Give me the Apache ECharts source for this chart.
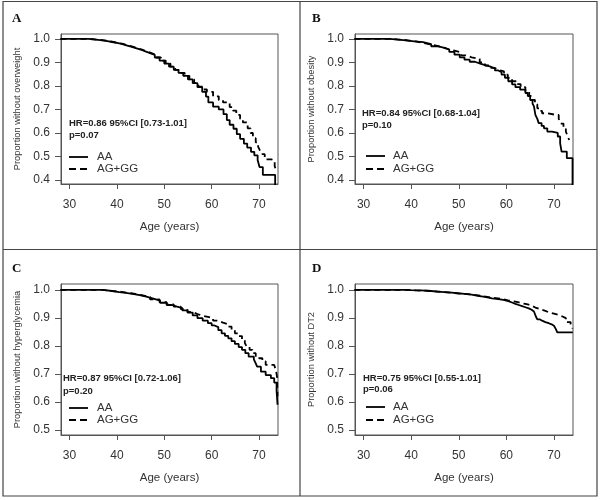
<!DOCTYPE html>
<html><head><meta charset="utf-8">
<script src="https://cdn.jsdelivr.net/npm/echarts@6/dist/echarts.min.js"></script>
<style>html,body{margin:0;padding:0;background:#fff}#c{width:600px;height:500px}</style>
</head><body><div id="c"></div><script>
// ---------- data ----------
const xTicks = [30, 40, 50, 60, 70];
const yTicksAB = [0.4, 0.5, 0.6, 0.7, 0.8, 0.9, 1.0];
const yTicksCD = [0.5, 0.6, 0.7, 0.8, 0.9, 1.0];
const panelLetters = ['A', 'B', 'C', 'D'];
const yTitles = ['Proportion without overweight', 'Proportion without obesity', 'Proportion without hyperglycemia', 'Proportion without DT2'];
const xTitle = 'Age (years)';
const hrTexts = ['HR=0.86 95%CI [0.73-1.01]', 'HR=0.84 95%CI [0.68-1.04]', 'HR=0.87 95%CI [0.72-1.06]', 'HR=0.75 95%CI [0.55-1.01]'];
const pTexts = ['p=0.07', 'p=0.10', 'p=0.20', 'p=0.06'];
const groupNames = ['AA', 'AG+GG'];

// [age, proportion] Kaplan-Meier steps
const A_AA = [[28.1,1],[33,1],[34,0.998],[35,0.996],[36,0.994],[37,0.991],[38,0.987],[39,0.983],[40,0.979],[41,0.973],[42,0.967],[43,0.961],[44,0.955],[45,0.947],[46,0.94],[47,0.932],[48,0.921],[49,0.908],[50,0.895],[51,0.882],[52,0.868],[53,0.856],[54,0.843],[55,0.828],[56,0.812],[57,0.795],[58,0.775],[58.8,0.755],[59.3,0.73],[60.3,0.712],[61.5,0.70],[62.5,0.68],[63.2,0.655],[63.8,0.635],[64.6,0.618],[65.3,0.595],[66,0.575],[66.8,0.555],[67.5,0.538],[68.3,0.52],[69,0.505],[69.7,0.485],[70.1,0.455],[70.8,0.422],[73.4,0.3]];
const A_AG = [[28.1,1],[33.3,1],[34.3,0.998],[35.3,0.996],[36.3,0.994],[37.3,0.991],[38.3,0.987],[39.3,0.983],[40.3,0.979],[41.3,0.973],[42.3,0.967],[43.3,0.961],[44.3,0.955],[45.3,0.947],[46.3,0.94],[47.3,0.932],[48.3,0.921],[49.3,0.908],[50.3,0.895],[51.3,0.882],[52.3,0.868],[53.3,0.856],[54.3,0.843],[55.3,0.828],[56.3,0.812],[57.2,0.797],[58.2,0.785],[59,0.775],[60.3,0.756],[61.5,0.74],[62.4,0.73],[63.8,0.71],[64.5,0.695],[65.2,0.677],[66,0.66],[66.6,0.645],[67.6,0.62],[68.2,0.6],[68.7,0.578],[69.3,0.56],[69.8,0.542],[70.2,0.525],[70.5,0.51],[71.2,0.488],[72.6,0.482],[73.3,0.46],[73.5,0.445]];
const B_AA = [[28.1,1],[33.5,1],[35.5,0.997],[37.1,0.994],[39,0.99],[40.6,0.986],[42.5,0.978],[44.2,0.969],[45.5,0.962],[47,0.955],[48,0.945],[49.1,0.933],[50.2,0.922],[51.2,0.912],[52.3,0.903],[53.4,0.895],[54.5,0.889],[55.5,0.883],[56.5,0.875],[57.6,0.866],[58.3,0.858],[59,0.848],[59.7,0.835],[60.4,0.82],[61.2,0.807],[61.9,0.795],[62.9,0.784],[64,0.77],[64.5,0.757],[65,0.74],[65.5,0.725],[65.8,0.713],[66.1,0.677],[66.5,0.66],[66.8,0.642],[67.4,0.63],[67.9,0.62],[68.6,0.606],[69.6,0.6],[70.8,0.585],[71.3,0.556],[71.6,0.521],[72.7,0.493],[73.9,0.3]];
const B_AG = [[28.1,1],[34,1],[36,0.997],[38,0.993],[39.5,0.99],[41,0.983],[42.5,0.977],[44,0.97],[45.5,0.962],[47,0.955],[48,0.95],[49.1,0.943],[50.5,0.93],[51.5,0.922],[52.7,0.915],[54.4,0.9],[55.5,0.887],[56.5,0.877],[57.5,0.869],[58.3,0.862],[59.5,0.848],[60.3,0.835],[61.2,0.82],[62,0.808],[63,0.795],[64,0.777],[64.8,0.758],[65.4,0.741],[66,0.722],[66.5,0.705],[67,0.694],[67.5,0.684],[68.6,0.677],[70.4,0.677],[71,0.66],[71.4,0.64],[72,0.62],[72.5,0.606],[72.9,0.585],[73.2,0.57]];
const C_AA = [[28.1,1],[35.4,1],[37,0.996],[39,0.992],[40.5,0.989],[41.9,0.986],[43.3,0.981],[44.8,0.976],[46.2,0.969],[47.7,0.962],[49.1,0.954],[50.5,0.946],[51.6,0.94],[52.7,0.935],[53.8,0.927],[54.9,0.919],[56,0.909],[57,0.899],[58.1,0.89],[59.2,0.881],[60,0.873],[60.6,0.867],[61.4,0.856],[62.1,0.845],[62.8,0.836],[63.5,0.827],[64.2,0.817],[64.9,0.807],[65.7,0.796],[66.4,0.786],[67.1,0.774],[67.8,0.762],[68.9,0.752],[69.3,0.738],[69.6,0.726],[70.4,0.708],[71.4,0.696],[72.5,0.685],[73.2,0.669],[73.7,0.64],[73.9,0.59]];
const C_AG = [[28.1,1],[35,1],[37,0.996],[39,0.993],[41,0.988],[43,0.982],[45,0.975],[47,0.966],[49,0.956],[50.5,0.948],[52,0.94],[53.5,0.931],[54.9,0.921],[56,0.914],[57,0.908],[58,0.904],[59.2,0.899],[60.3,0.89],[61.3,0.883],[62.4,0.877],[63.5,0.869],[64.2,0.858],[64.9,0.845],[65.7,0.835],[66.4,0.824],[67,0.81],[67.4,0.798],[68,0.786],[68.6,0.774],[69.3,0.764],[70,0.756],[70.7,0.745],[71.4,0.732],[73.2,0.732],[73.6,0.71],[73.8,0.69],[73.9,0.62]];
const D_AA = [[28.1,1],[37,1],[38.5,0.999],[39.9,0.998],[42,0.996],[44.2,0.994],[45.5,0.992],[47,0.99],[48.5,0.988],[49.8,0.986],[51.2,0.983],[52.7,0.979],[54,0.975],[55.5,0.97],[57,0.967],[58.3,0.964],[59.4,0.96],[60.4,0.955],[61.2,0.95],[61.9,0.946],[62.6,0.942],[63.3,0.938],[64,0.934],[64.7,0.929],[65.3,0.923],[65.8,0.917],[66.2,0.905],[66.5,0.895],[67,0.89],[67.5,0.885],[68.2,0.881],[68.9,0.877],[69.5,0.872],[70,0.867],[70.4,0.86],[70.7,0.848],[73.95,0.848]];
const D_AG = [[28.1,1],[37.5,1],[39,0.998],[41,0.997],[43,0.995],[45,0.992],[47,0.989],[49,0.986],[51,0.983],[53,0.978],[55,0.972],[57,0.968],[59,0.962],[60.5,0.958],[61.9,0.955],[62.6,0.952],[63.3,0.95],[64,0.947],[64.7,0.943],[65.4,0.937],[66.1,0.931],[67.1,0.925],[68.2,0.919],[69,0.915],[70,0.911],[70.9,0.905],[71.8,0.899],[72.5,0.885],[73.5,0.877],[73.9,0.862]];

const curvesAA = [A_AA, B_AA, C_AA, D_AA];
const curvesAG = [A_AG, B_AG, C_AG, D_AG];

// ---------- layout ----------
const FONT = '"Liberation Sans", Arial, sans-serif';
const panels = [
  {left:61,  top:34,  width:217, height:150, ymin:0.383, ymax:1.021, yt:yTicksAB, ox:0,   oy:0},
  {left:355, top:34,  width:218, height:150, ymin:0.383, ymax:1.021, yt:yTicksAB, ox:300, oy:0},
  {left:61,  top:284, width:217, height:151, ymin:0.482, ymax:1.021, yt:yTicksCD, ox:0,   oy:250},
  {left:355, top:284, width:218, height:151, ymin:0.482, ymax:1.021, yt:yTicksCD, ox:300, oy:250}
];
const textAnchors = [
  {hr:[69,123], p:[69,135], leg:[69,157,169], legTx:97},
  {hr:[362,113], p:[362,125], leg:[366,156,169], legTx:393},
  {hr:[63,378], p:[63,391], leg:[69,408,420], legTx:97},
  {hr:[363,378], p:[363,389], leg:[366,407,420], legTx:393}
];

const grid = [], xAxis = [], yAxis = [], series = [], graphic = [];
const axisColor = '#555', labelColor = '#333';
panels.forEach((p, i) => {
  grid.push({left:p.left, top:p.top, width:p.width, height:p.height, show:true, borderColor:axisColor, borderWidth:1, backgroundColor:'transparent'});
  xAxis.push({type:'value', gridIndex:i, min:28.2, max:74.0,
    name:xTitle, nameLocation:'middle', nameGap:37,
    nameTextStyle:{fontFamily:FONT, fontSize:11.5, color:labelColor},
    axisLine:{show:true, onZero:false, lineStyle:{color:axisColor}},
    axisTick:{show:true, length:5, customValues:xTicks, lineStyle:{color:axisColor}},
    axisLabel:{customValues:xTicks, fontFamily:FONT, fontSize:12, color:labelColor, margin:15},
    splitLine:{show:false}});
  yAxis.push({type:'value', gridIndex:i, min:p.ymin, max:p.ymax,
    name:yTitles[i], nameLocation:'middle', nameGap:39,
    nameTextStyle:{fontFamily:FONT, fontSize:9.3, color:labelColor},
    axisLine:{show:true, onZero:false, lineStyle:{color:axisColor}},
    axisTick:{show:true, length:6, customValues:p.yt, lineStyle:{color:axisColor}},
    axisLabel:{customValues:p.yt, fontFamily:FONT, fontSize:12, color:labelColor, margin:11, formatter:v=>v.toFixed(1)},
    splitLine:{show:false}});
  series.push({type:'line', name:groupNames[0], xAxisIndex:i, yAxisIndex:i, data:curvesAA[i], step:'end', showSymbol:false, symbol:'none', clip:true,
    lineStyle:{color:'#000', width:1.8}, silent:true, animation:false});
  series.push({type:'line', name:groupNames[1], xAxisIndex:i, yAxisIndex:i, data:curvesAG[i], step:'end', showSymbol:false, symbol:'none', clip:true,
    lineStyle:{color:'#000', width:1.8, type:[6,4]}, silent:true, animation:false});

  const t = textAnchors[i];
  graphic.push({type:'text', x:p.ox+12, y:p.oy+12, style:{text:panelLetters[i], font:'bold 13px "Liberation Serif", "Times New Roman", serif', fill:'#111'}});
  graphic.push({type:'text', x:t.hr[0], y:t.hr[1], style:{text:hrTexts[i], font:'bold 9.5px '+FONT, fill:'#222', verticalAlign:'middle'}});
  graphic.push({type:'text', x:t.p[0], y:t.p[1], style:{text:pTexts[i], font:'bold 9.5px '+FONT, fill:'#222', verticalAlign:'middle'}});
  graphic.push({type:'line', shape:{x1:t.leg[0], y1:t.leg[1], x2:t.leg[0]+19, y2:t.leg[1]}, style:{stroke:'#000', lineWidth:1.8}});
  graphic.push({type:'line', shape:{x1:t.leg[0], y1:t.leg[2], x2:t.leg[0]+19, y2:t.leg[2]}, style:{stroke:'#000', lineWidth:1.8, lineDash:[7,4]}});
  graphic.push({type:'text', x:t.legTx, y:t.leg[1], style:{text:groupNames[0], font:'11.5px '+FONT, fill:labelColor, verticalAlign:'middle'}});
  graphic.push({type:'text', x:t.legTx, y:t.leg[2], style:{text:groupNames[1], font:'11.5px '+FONT, fill:labelColor, verticalAlign:'middle'}});
});
// frame and dividers
graphic.push({type:'rect', shape:{x:3, y:1.5, width:594, height:494.5}, style:{fill:'none', stroke:'#444', lineWidth:1.2}});
graphic.push({type:'line', shape:{x1:300, y1:1.5, x2:300, y2:496}, style:{stroke:'#444', lineWidth:1.2}});
graphic.push({type:'line', shape:{x1:3, y1:249.5, x2:597, y2:249.5}, style:{stroke:'#444', lineWidth:1.2}});

const chart = echarts.init(document.getElementById('c'), null, {renderer:'canvas'});
chart.setOption({animation:false, backgroundColor:'#fff', grid, xAxis, yAxis, series, graphic});
</script></body></html>
